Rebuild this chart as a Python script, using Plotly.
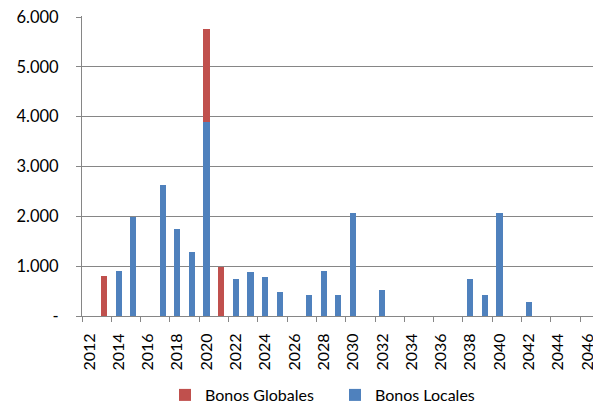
import plotly.graph_objects as go

years = list(range(2012, 2047))
bonos_globales = {2013: 800, 2020: 1850, 2021: 980}
bonos_locales = {2014: 900, 2015: 1990, 2017: 2620, 2018: 1750, 2019: 1290,
                 2020: 3900, 2022: 750, 2023: 875, 2024: 782, 2025: 481,
                 2027: 423, 2028: 906, 2029: 423, 2030: 2074, 2032: 517,
                 2038: 745, 2039: 423, 2040: 2074, 2042: 289}
y_ticks = [0, 1000, 2000, 3000, 4000, 5000, 6000]
y_tick_labels = ["-", "1.000", "2.000", "3.000", "4.000", "5.000", "6.000"]
x_label_years = list(range(2012, 2047, 2))

glob_vals = [bonos_globales.get(y, 0) for y in years]
loc_vals = [bonos_locales.get(y, 0) for y in years]

RED = "#C0504D"
BLUE = "#4F81BD"
FONT = "Lato, 'Liberation Sans', sans-serif"

fig = go.Figure()
fig.add_trace(go.Bar(x=years, y=loc_vals, name="Bonos Locales", marker_color=BLUE,
                     marker_line_width=0, width=0.42, legendrank=2))
fig.add_trace(go.Bar(x=years, y=glob_vals, name="Bonos Globales", marker_color=RED,
                     marker_line_width=0, width=0.42, legendrank=1))

fig.update_layout(
    width=601, height=404,
    barmode="stack",
    plot_bgcolor="white", paper_bgcolor="white",
    margin=dict(l=74, r=8, t=8, b=96, autoexpand=False),
    font=dict(family=FONT, size=16, color="#000000"),
    legend=dict(orientation="h", traceorder="normal",
                xref="container", x=157 / 601, xanchor="left",
                yref="container", y=0.0, yanchor="bottom",
                font=dict(size=16), itemwidth=30, entrywidth=125, entrywidthmode="pixels"),
    xaxis=dict(
        type="linear", automargin=False,
        range=[2011.5, 2011.5 + (601 - 82) / 14.65],
        tickmode="array", tickvals=x_label_years, ticktext=[str(y) for y in x_label_years],
        tickangle=-90, ticks="", showgrid=False,
        showline=True, linecolor="#868686", linewidth=1,
        minor=dict(tickmode="array", tickvals=[y - 0.5 for y in x_label_years],
                   ticks="outside", ticklen=5, tickcolor="#868686", showgrid=False),
        ticklabelstandoff=10,
        zeroline=False,
    ),
    yaxis=dict(
        range=[0, 6020], automargin=False,
        tickmode="array", tickvals=y_ticks, ticktext=y_tick_labels,
        showgrid=True, gridcolor="#868686", gridwidth=1,
        showline=True, linecolor="#868686", linewidth=1, mirror=False,
        ticks="outside", ticklen=5, tickcolor="#868686",
        ticklabelstandoff=14, ticklabeloverflow="allow",
        zeroline=False,
        tickfont=dict(size=16.5),
    ),
)

fig.write_html("out.html")
